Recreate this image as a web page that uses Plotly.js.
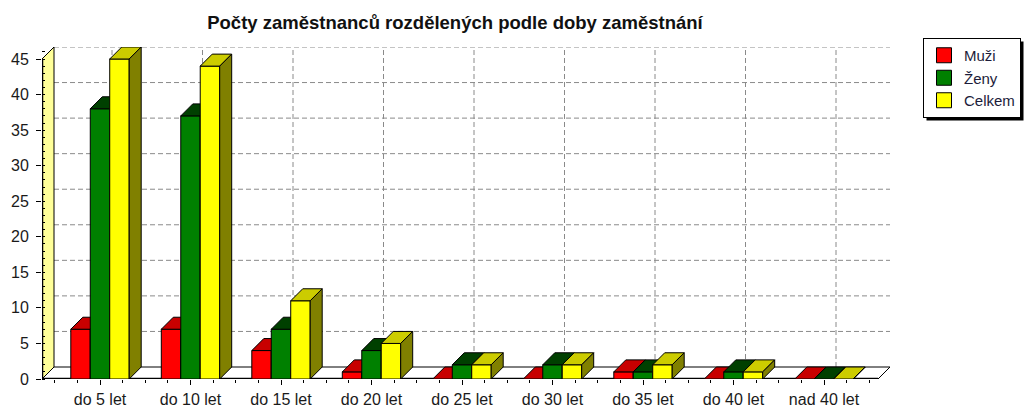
<!DOCTYPE html>
<html><head><meta charset="utf-8">
<script src="https://cdn.plot.ly/plotly-3.0.1.min.js"></script>
<style>html,body{margin:0;padding:0;background:#fff;} #chart{width:1024px;height:410px;}</style>
</head><body><div id="chart"></div>
<script>
// ---- data ----
const categories = ["do 5 let","do 10 let","do 15 let","do 20 let","do 25 let","do 30 let","do 35 let","do 40 let","nad 40 let"];
const muzi   = [7, 7, 4, 1, 0, 0, 1, 0, 0];
const zeny   = [38, 37, 7, 4, 2, 2, 1, 1, 0];
const celkem = [45, 44, 11, 5, 2, 2, 2, 1, 0];
const seriesNames = ["Muži", "Ženy", "Celkem"];
const yTicks = [0, 5, 10, 15, 20, 25, 30, 35, 40, 45];
const chartTitle = "Počty zaměstnanců rozdělených podle doby zaměstnání";

// ---- geometry / style ----
const M = {l:42, r:134, t:47, b:31};
const PW = 1024 - M.l - M.r, PH = 410 - M.t - M.b;
const pxX = 90.5, pxY = 320/45;
const X0 = (42-100)/pxX, X1 = X0 + PW/pxX;
const DX = 12/pxX, DY = 12/pxY;
const YTOP = yTicks[yTicks.length-1];
const Y1 = YTOP + DY;
const BW = 0.215;
const offsets = [-BW, 0, BW];
const front = ["#ff0000", "#008000", "#ffff00"];
const topC  = ["#c80000", "#004000", "#cccc00"];
const sideC = ["#800000", "#003000", "#808000"];
const FONT = "Liberation Sans, Arial, sans-serif";
const seriesVals = [muzi, zeny, celkem];
const xIdx = categories.map((c,i)=>i);

function poly(vals, off, kind){
  const xs=[], ys=[];
  vals.forEach((v,i)=>{
    const a = xIdx[i]+off-BW/2, b = xIdx[i]+off+BW/2;
    let p;
    if(kind==='front') p=[[a,0],[a,v],[b,v],[b,0]];
    else if(kind==='top') p=[[a,v],[a+DX,v+DY],[b+DX,v+DY],[b,v]];
    else p=[[b,0],[b,v],[b+DX,v+DY],[b+DX,DY]];
    p.push(p[0]);
    p.forEach(q=>{xs.push(q[0]); ys.push(q[1]);});
    xs.push(null); ys.push(null);
  });
  return {xs, ys};
}

const traces = [];
// legend entries
seriesNames.forEach((n,s)=>{
  traces.push({type:'scatter', mode:'markers', name:n, x:[null], y:[null],
    marker:{symbol:'square', size:15, color:front[s], line:{color:'#000', width:1}}, hoverinfo:'skip'});
});
// 3D bar faces
seriesVals.forEach((vals,s)=>{
  [['front',front[s]],['top',topC[s]],['side',sideC[s]]].forEach(([k,col])=>{
    const p = poly(vals, offsets[s], k);
    traces.push({type:'scatter', mode:'lines', x:p.xs, y:p.ys, fill:'toself', fillcolor:col,
      line:{color:'#000', width:1}, showlegend:false, hoverinfo:'skip', connectgaps:false});
  });
});

const shapes = [];
const gridLine = {color:'#8a8a8a', width:1, dash:'5px,3px'};
yTicks.filter(v=>v>0).forEach(v=>{
  shapes.push({type:'line', layer:'below', xref:'x', yref:'y', x0:X0+DX, x1:X1, y0:v+DY, y1:v+DY, line:gridLine});
});
xIdx.forEach(i=>{
  shapes.push({type:'line', layer:'below', xref:'x', yref:'y', x0:i+DX, x1:i+DX, y0:DY, y1:YTOP+DY, line:gridLine});
});
// left wall
shapes.push({type:'path', layer:'below', xref:'x', yref:'y',
  path:`M${X0},0 L${X0},${YTOP} L${X0+DX},${YTOP+DY} L${X0+DX},${DY} Z`,
  fillcolor:'#ffff99', line:{color:'#000', width:1}});
// floor
shapes.push({type:'path', layer:'below', xref:'x', yref:'y',
  path:`M${X0},0 L${X0+DX},${DY} L${X1},${DY} L${X1-DX},0 Z`,
  fillcolor:'#ffffff', line:{color:'#000', width:1}});
// axis edges
shapes.push({type:'line', layer:'below', xref:'x', yref:'y', x0:X0, x1:X1-DX, y0:0, y1:0, line:{color:'#000', width:2.5}});
shapes.push({type:'line', layer:'below', xref:'x', yref:'y', x0:X0, x1:X0, y0:0, y1:YTOP, line:{color:'#000', width:2.5}});

const layout = {
  width:1024, height:410, margin:{...M, autoexpand:false},
  paper_bgcolor:'#fff', plot_bgcolor:'rgba(0,0,0,0)',
  showlegend:true,
  title:{text:chartTitle, font:{family:FONT, size:18.5, color:'#111', weight:'bold'},
    xref:'container', x:455/1024, xanchor:'center', yref:'container', y:1-23/410, yanchor:'middle'},
  xaxis:{range:[X0, X1], tickmode:'array', tickvals:xIdx, ticktext:categories,
    showgrid:false, zeroline:false, showline:false, ticks:'outside', ticklen:5, tickcolor:'#000',
    minor:{dtick:0.25, tick0:0, ticks:'outside', ticklen:3, tickcolor:'#000', showgrid:false},
    tickfont:{family:FONT, size:16, color:'#1a1a1a'}, ticklabelstandoff:1, fixedrange:true},
  yaxis:{range:[0, Y1], tickmode:'array', tickvals:yTicks, ticktext:yTicks.map(String),
    showgrid:false, zeroline:false, showline:false, ticks:'outside', ticklen:5, tickcolor:'#000',
    minor:{dtick:1, ticks:'inside', ticklen:3, tickcolor:'#000', showgrid:false},
    tickfont:{family:FONT, size:16, color:'#1a1a1a'}, ticklabelstandoff:4, fixedrange:true},
  legend:{x:(923-42)/PW, xanchor:'left', y:(379-38)/PH, yanchor:'top', traceorder:'normal',
    bgcolor:'#fff', bordercolor:'#000', borderwidth:1,
    font:{family:FONT, size:15, color:'#1c1c3a'}},
  shapes:shapes
};

Plotly.newPlot('chart', traces, layout, {displayModeBar:false, staticPlot:true}).then(gd=>{
  const bg = gd.querySelector('.legend .bg');
  if(!bg) return;
  const r = bg.getBoundingClientRect();
  const toPX = px => (px - M.l)/PW, toPY = py => (410 - M.b - py)/PH;
  const sh = gd.layout.shapes.slice();
  sh.push({type:'rect', layer:'above', xref:'paper', yref:'paper',
    x0:toPX(r.left+3), x1:toPX(r.right+3), y0:toPY(r.bottom+3), y1:toPY(r.top+3),
    fillcolor:'#000', line:{width:0}});
  Plotly.relayout(gd, {shapes:sh});
});
</script>
</body></html>
